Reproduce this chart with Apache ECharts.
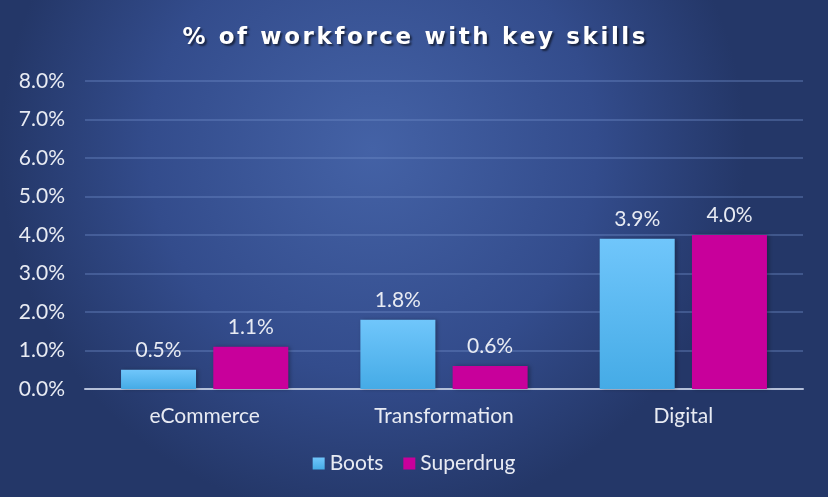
<!DOCTYPE html>
<html><head><meta charset="utf-8">
<script src="https://cdn.jsdelivr.net/npm/echarts@6/dist/echarts.min.js"></script>
<style>html,body{margin:0;padding:0;background:#2d4380}#c{width:828px;height:497px}</style>
</head><body><div id="c"></div>
<script>
var titleText = '% of workforce with key skills';
var categories = ['eCommerce', 'Transformation', 'Digital'];
var bootsValues = [0.5, 1.8, 3.9];
var superdrugValues = [1.1, 0.6, 4.0];
var yTicks = [0, 1, 2, 3, 4, 5, 6, 7, 8];

var chart = echarts.init(document.getElementById('c'));
var txt = '#e8ebf3';
var FS = 21;
var lbl = {show: true, position: 'top', distance: 9, color: txt, fontFamily: 'Lato', fontSize: FS,
  formatter: function (p) { return p.value.toFixed(1) + '%'; }};
var titleStyle = {color: '#ffffff', fontFamily: 'DejaVu Sans', fontWeight: 'bold', fontSize: 23,
  padding: [0, 1.3, 0, 1.3],
  textShadowColor: 'rgba(0,0,0,0.55)', textShadowOffsetX: 2, textShadowOffsetY: 2, textShadowBlur: 2};
var spaced = titleText.split('').map(function (ch) { return '{c|' + ch + '}'; }).join('');
chart.setOption({
  backgroundColor: {type: 'radial', x: 0.45, y: 0.3, r: 0.75,
    colorStops: [{offset: 0, color: '#4462a6'}, {offset: 0.6, color: '#334c8c'}, {offset: 1, color: '#243768'}]},
  title: {text: spaced, left: 'center', top: 22,
    textStyle: {color: '#ffffff', fontSize: 23, rich: {c: titleStyle}}},
  grid: {left: 85, right: 25, top: 81, bottom: 108},
  legend: {bottom: 18, left: 'center', itemWidth: 12, itemHeight: 12, itemGap: 20,
    icon: 'rect', textStyle: {color: txt, fontFamily: 'Lato', fontSize: FS}},
  xAxis: {type: 'category', data: categories,
    axisLine: {lineStyle: {color: '#b4bfd8', width: 2}}, axisTick: {show: false},
    axisLabel: {color: txt, fontFamily: 'Lato', fontSize: FS, margin: 17}},
  yAxis: {type: 'value', min: yTicks[0], max: yTicks[yTicks.length - 1], interval: 1,
    axisLabel: {color: txt, fontFamily: 'Lato', fontSize: FS, margin: 20,
      formatter: function (v) { return v.toFixed(1) + '%'; }},
    splitLine: {lineStyle: {color: 'rgba(110,140,200,0.38)', width: 2}}},
  series: [
    {name: 'Boots', type: 'bar', data: bootsValues, barWidth: 75, barGap: '23%',
      itemStyle: {color: {type: 'linear', x: 0, y: 0, x2: 0, y2: 1,
        colorStops: [{offset: 0, color: '#70c6fb'}, {offset: 1, color: '#45abe6'}]},
        shadowColor: 'rgba(0,0,0,0.3)', shadowBlur: 4, shadowOffsetX: 2}, label: lbl},
    {name: 'Superdrug', type: 'bar', data: superdrugValues, barWidth: 75,
      itemStyle: {color: '#c8009b', shadowColor: 'rgba(0,0,0,0.3)', shadowBlur: 4, shadowOffsetX: 2}, label: lbl}
  ]
});
</script></body></html>
